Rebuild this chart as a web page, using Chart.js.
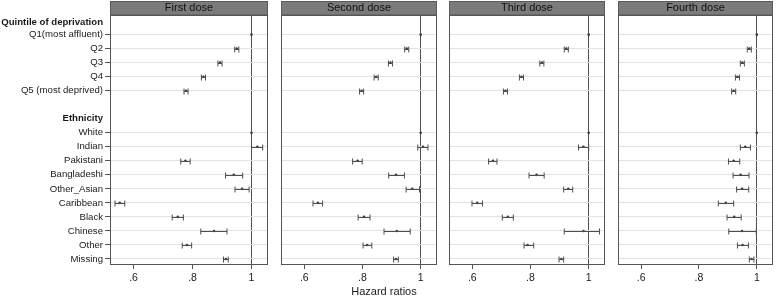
<!DOCTYPE html>
<html>
<head>
<meta charset="utf-8">
<script src="https://cdn.jsdelivr.net/npm/chart.js@4.4.0/dist/chart.umd.min.js"></script>
<style>
  body { margin: 0; background: #fff; }
  #wrap { position: relative; width: 777px; height: 298px; overflow: hidden; }
  canvas { position: absolute; top: 0; }
  #xtitle {
    position: absolute; left: 0; width: 768px; top: 285px; text-align: center;
    font: 11px "Liberation Sans", Arial, sans-serif; color: #1a1a1a;
  }
</style>
</head>
<body>
<div id="wrap">
  <canvas id="p0" width="272" height="298" style="left:0px"></canvas>
  <canvas id="p1" width="164" height="298" style="left:277px"></canvas>
  <canvas id="p2" width="164" height="298" style="left:445px"></canvas>
  <canvas id="p3" width="163" height="298" style="left:614px"></canvas>
  <div id="xtitle">Hazard ratios</div>
</div>
<script>
const doses = ["First dose", "Second dose", "Third dose", "Fourth dose"];
const groups = ["Quintile of deprivation", "Ethnicity"];
const categories = ["Q1(most affluent)", "Q2", "Q3", "Q4", "Q5 (most deprived)",
  "White", "Indian", "Pakistani", "Bangladeshi", "Other_Asian", "Caribbean",
  "Black", "Chinese", "Other", "Missing"];
const xTicks = [0.6, 0.8, 1];

const hrFirst = [1, 0.950, 0.893, 0.837, 0.778, 1, 1.020, 0.776, 0.940, 0.968, 0.553, 0.750, 0.873, 0.781, 0.913];
const loFirst = [1, 0.943, 0.886, 0.830, 0.771, 1, 1.000, 0.760, 0.912, 0.944, 0.537, 0.731, 0.828, 0.765, 0.905];
const hiFirst = [1, 0.957, 0.900, 0.844, 0.785, 1, 1.038, 0.792, 0.970, 0.992, 0.570, 0.769, 0.917, 0.797, 0.921];

const hrSecond = [1, 0.952, 0.896, 0.847, 0.797, 1, 1.008, 0.783, 0.915, 0.971, 0.647, 0.805, 0.918, 0.816, 0.915];
const loSecond = [1, 0.945, 0.889, 0.840, 0.790, 1, 0.990, 0.766, 0.890, 0.950, 0.630, 0.785, 0.874, 0.802, 0.907];
const hiSecond = [1, 0.959, 0.903, 0.854, 0.804, 1, 1.025, 0.799, 0.944, 0.996, 0.663, 0.826, 0.964, 0.832, 0.923];

const hrThird = [1, 0.923, 0.839, 0.769, 0.714, 1, 0.982, 0.671, 0.821, 0.930, 0.617, 0.722, 0.982, 0.790, 0.906];
const loThird = [1, 0.916, 0.832, 0.762, 0.707, 1, 0.965, 0.656, 0.795, 0.914, 0.599, 0.703, 0.916, 0.778, 0.898];
const hiThird = [1, 0.930, 0.846, 0.776, 0.721, 1, 1.000, 0.685, 0.847, 0.945, 0.635, 0.741, 1.037, 0.811, 0.914];

const hrFourth = [1, 0.974, 0.950, 0.933, 0.920, 1, 0.960, 0.920, 0.944, 0.949, 0.893, 0.922, 0.949, 0.951, 0.982];
const loFourth = [1, 0.967, 0.943, 0.926, 0.913, 1, 0.943, 0.902, 0.918, 0.930, 0.867, 0.897, 0.903, 0.933, 0.974];
const hiFourth = [1, 0.981, 0.957, 0.940, 0.927, 1, 0.978, 0.941, 0.973, 0.972, 0.920, 0.946, 0.998, 0.971, 0.990];

const panels = [
  [hrFirst, loFirst, hiFirst],
  [hrSecond, loSecond, hiSecond],
  [hrThird, loThird, hiThird],
  [hrFourth, loFourth, hiFourth],
];

const FONT = '"Liberation Sans", Arial, sans-serif';

// row slot for each category (blank row between the two groups)
const rowOf = (i) => (i < 5 ? i + 1 : i + 3);
const groupRows = [0.15, 7];
const labelAt = new Map();
categories.forEach((c, i) => labelAt.set(rowOf(i), c));
groups.forEach((g, i) => labelAt.set(groupRows[i], g));
const isGroup = (v) => groupRows.includes(v);

const errorBars = {
  id: "errorBars",
  afterDatasetsDraw(chart, args, opts) {
    const { ctx, scales: { x, y }, chartArea } = chart;
    ctx.save();
    ctx.beginPath();
    ctx.rect(chartArea.left, chartArea.top, chartArea.width, chartArea.height);
    ctx.clip();
    ctx.strokeStyle = "#4d4d4d";
    ctx.lineWidth = 1;
    opts.lo.forEach((lo, i) => {
      const hi = opts.hi[i];
      if (lo === hi) return;
      const py = Math.round(y.getPixelForValue(rowOf(i))) + 0.5;
      const x1 = x.getPixelForValue(lo);
      const x2 = x.getPixelForValue(hi);
      ctx.beginPath();
      ctx.moveTo(x1, py); ctx.lineTo(x2, py);
      ctx.moveTo(x1, py - 3); ctx.lineTo(x1, py + 3);
      ctx.moveTo(x2, py - 3); ctx.lineTo(x2, py + 3);
      ctx.stroke();
    });
    ctx.restore();
  },
};

const panelFrame = {
  id: "panelFrame",
  afterDraw(chart, args, opts) {
    const { ctx, chartArea: a } = chart;
    ctx.save();
    // header strip
    ctx.fillStyle = "#7b7b7b";
    ctx.fillRect(a.left, 1, a.right - a.left, a.top - 1);
    ctx.strokeStyle = "#5a5a5a";
    ctx.lineWidth = 1;
    ctx.strokeRect(a.left + 0.5, 1.5, a.right - a.left - 1, a.top - 1.5);
    ctx.fillStyle = "#111";
    ctx.font = "11px " + FONT;
    ctx.textAlign = "center";
    ctx.textBaseline = "middle";
    ctx.fillText(opts.title, (a.left + a.right) / 2, a.top / 2 + 0.5);
    // plot frame
    ctx.strokeStyle = "#555";
    ctx.strokeRect(a.left + 0.5, a.top + 0.5, a.right - a.left - 1, a.bottom - a.top - 1);
    ctx.restore();
  },
};

panels.forEach(([hr, lo, hi], p) => {
  const first = p === 0;
  new Chart(document.getElementById("p" + p), {
    type: "scatter",
    data: {
      datasets: [{
        data: hr.map((v, i) => ({ x: v, y: rowOf(i) })),
        backgroundColor: "#3d3d3d",
        borderColor: "#3d3d3d",
        pointRadius: 1.3,
        pointBorderWidth: 0,
      }],
    },
    options: {
      responsive: false,
      animation: false,
      devicePixelRatio: 1,
      layout: { padding: { top: 15, left: first ? 0 : 2, right: p === 3 ? 1 : 2, bottom: 0 } },
      plugins: {
        legend: { display: false },
        tooltip: { enabled: false },
        errorBars: { lo: lo, hi: hi },
        panelFrame: { title: doses[p] },
      },
      scales: {
        x: {
          type: "linear",
          min: 0.52,
          max: 1.056,
          afterBuildTicks: (s) => { s.ticks = xTicks.map((v) => ({ value: v })); },
          afterFit: (s) => { s.height = 33; },
          border: { display: false },
          grid: {
            color: (c) => (c.tick && c.tick.value === 1 ? "#4d4d4d" : "rgba(0,0,0,0)"),
            tickColor: "#555",
            tickLength: 4,
          },
          ticks: {
            padding: 3,
            color: "#1a1a1a",
            font: { family: FONT, size: 10.5 },
            maxRotation: 0,
            callback: (v) => (v === 1 ? "1" : String(v).replace(/^0/, "")),
          },
        },
        y: {
          type: "linear",
          reverse: true,
          min: -0.4,
          max: 17.43,
          afterBuildTicks: (s) => {
            s.ticks = [...labelAt.keys()].sort((a, b) => a - b).map((v) => ({ value: v }));
          },
          afterFit: (s) => { s.width = first ? 110 : 0; },
          border: { display: false },
          grid: {
            color: (c) => (c.tick && isGroup(c.tick.value) ? "rgba(0,0,0,0)" : "#e2e2e2"),
            tickColor: (c) => (c.tick && isGroup(c.tick.value) ? "rgba(0,0,0,0)" : "#555"),
            drawTicks: first,
            tickLength: 5,
          },
          ticks: {
            display: first,
            autoSkip: false,
            padding: 2,
            color: "#1a1a1a",
            font: (c) => ({
              family: FONT,
              size: 9.6,
              weight: c.tick && isGroup(c.tick.value) ? "bold" : "normal",
            }),
            callback: (v) => labelAt.get(v) || "",
          },
        },
      },
    },
    plugins: [errorBars, panelFrame],
  });
});
</script>
</body>
</html>
